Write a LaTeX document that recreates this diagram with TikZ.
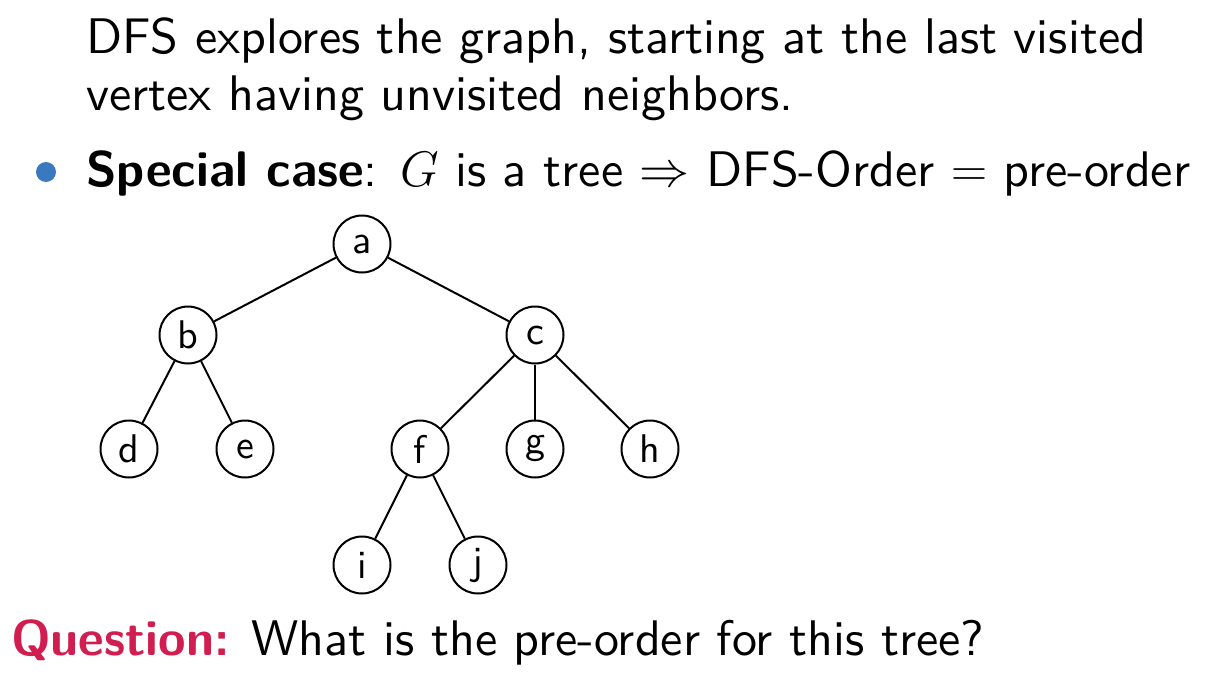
\RequirePackage{fix-cm}
\documentclass[tikz,border=0pt]{standalone}
\usepackage{fontspec}
\setsansfont{lmsans10-regular.otf}[
  BoldFont=lmsans10-bold.otf,
  ItalicFont=lmsans10-oblique.otf,
  BoldItalicFont=lmsans10-boldoblique.otf]
\definecolor{alertred}{RGB}{208,30,80}
\definecolor{bulletblue}{RGB}{58,120,192}
\tikzset{
  txt/.style={anchor=base west, inner sep=0pt, font=\sffamily\fontsize{50}{60}\selectfont},
  vtx/.style={circle, draw, line width=2pt, minimum size=57pt, inner sep=0pt, font=\sffamily\fontsize{40}{42}\selectfont},
  edge/.style={line width=2pt}
}
\begin{document}
\begin{tikzpicture}[x=1pt,y=-1pt]
\useasboundingbox (0,0) rectangle (1207,693);
\node[txt] (l1) at (86,53) {DFS explores the graph, starting at the last visited};
\node[txt] (l2) at (86,110) {vertex having unvisited neighbors.};
\fill[bulletblue] (46,172) circle (10pt);
\node[txt] (l3) at (86,186) {\textbf{Special case}: $G$ is a tree $\Rightarrow$ DFS-Order $=$ pre-order};
\node[txt] (q) at (11,655) {\textcolor{alertred}{\textbf{Question:}} What is the pre-order for this tree?};
\node[vtx] (a) at (362,244) {a};
\node[vtx] (b) at (188,335) {b};
\node[vtx] (c) at (535,335) {c};
\node[vtx] (d) at (129,449) {d};
\node[vtx] (e) at (245,449) {e};
\node[vtx] (f) at (420,449) {f};
\node[vtx] (g) at (535,449) {g};
\node[vtx] (h) at (650,449) {h};
\node[vtx] (i) at (362,565) {i};
\node[vtx] (j) at (478,565) {j};
\draw[edge] (a) -- (b);
\draw[edge] (a) -- (c);
\draw[edge] (b) -- (d);
\draw[edge] (b) -- (e);
\draw[edge] (c) -- (f);
\draw[edge] (c) -- (g);
\draw[edge] (c) -- (h);
\draw[edge] (f) -- (i);
\draw[edge] (f) -- (j);
\end{tikzpicture}
\end{document}
